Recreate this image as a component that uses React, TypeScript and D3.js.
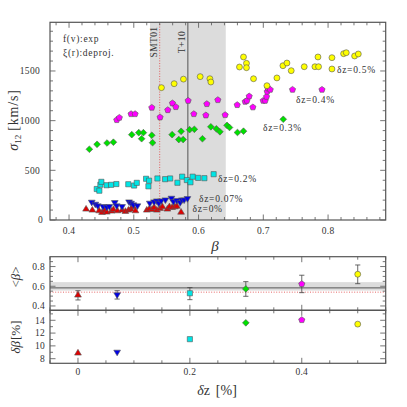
import React from "react";
import * as d3 from "d3";

// ---------------- data ----------------
const seriesYellow: [number, number][] = [
  [0.5427, 1332], [0.5623, 1372], [0.5767, 1418], [0.6025, 1443], [0.6175, 1422], [0.619, 1389],
  [0.6632, 1540], [0.6694, 1641], [0.674, 1577], [0.674, 1533], [0.6849, 1422], [0.7056, 1352],
  [0.721, 1430], [0.7303, 1553], [0.7365, 1580], [0.7431, 1503], [0.7632, 1543], [0.7797, 1543],
  [0.7853, 1543], [0.7844, 1641], [0.806, 1634], [0.806, 1520], [0.824, 1674], [0.8281, 1684],
  [0.841, 1651], [0.8467, 1671],
];
const seriesMagenta: [number, number][] = [
  [0.4737, 1007], [0.4777, 1030], [0.4958, 1067], [0.502, 1067], [0.5278, 1131], [0.5406, 1034],
  [0.5525, 1107], [0.5597, 1175], [0.5649, 1138], [0.5839, 1201], [0.5927, 1067], [0.6113, 1054],
  [0.6128, 1168], [0.6298, 1208], [0.6411, 1057], [0.6597, 1158], [0.672, 1191], [0.6747, 1201],
  [0.6782, 1245], [0.6839, 1135], [0.6998, 1201], [0.7029, 1201], [0.705, 1241], [0.706, 1292],
  [0.7071, 1326], [0.7107, 1312], [0.7451, 1312], [0.7906, 1312],
];
const seriesGreen: [number, number][] = [
  [0.4314, 712], [0.4433, 762], [0.4587, 775], [0.4685, 783], [0.4969, 859], [0.5077, 879],
  [0.5148, 879], [0.5121, 818], [0.5278, 853], [0.529, 778], [0.5592, 859], [0.5731, 893],
  [0.5695, 810], [0.5762, 810], [0.5862, 909], [0.5935, 913], [0.606, 818], [0.619, 938],
  [0.6275, 918], [0.633, 888], [0.6439, 953], [0.6478, 931], [0.6601, 881], [0.6694, 894],
  [0.7308, 1014],
];
const seriesCyan: [number, number][] = [
  [0.4428, 312], [0.4468, 295], [0.4484, 355], [0.4499, 384], [0.458, 350], [0.4649, 354],
  [0.4731, 362], [0.4915, 360], [0.5005, 347], [0.5046, 374], [0.519, 415], [0.5236, 396],
  [0.5226, 339], [0.5365, 418], [0.5484, 411], [0.5561, 418], [0.5674, 375], [0.5747, 436],
  [0.5819, 402], [0.5875, 380], [0.5909, 436], [0.5994, 424], [0.609, 421], [0.6233, 461],
];
const seriesBlue: [number, number][] = [
  [0.4351, 178], [0.4406, 158], [0.4444, 141], [0.4526, 134], [0.4583, 128], [0.4623, 134],
  [0.4706, 174], [0.4737, 141], [0.4819, 134], [0.4927, 181], [0.4958, 168], [0.4994, 151],
  [0.5056, 141], [0.5247, 168], [0.5314, 181], [0.5356, 191], [0.5386, 168], [0.5422, 191],
  [0.5488, 201], [0.5581, 218], [0.5612, 184], [0.5665, 194], [0.5716, 174], [0.5742, 201],
  [0.5777, 201], [0.5828, 214],
];
const seriesRed: [number, number][] = [
  [0.4263, 111], [0.436, 101], [0.4464, 94], [0.451, 78], [0.4552, 101], [0.4583, 81],
  [0.4654, 91], [0.4685, 108], [0.4747, 94], [0.4819, 101], [0.487, 88], [0.4917, 101],
  [0.4954, 111], [0.4985, 134], [0.5025, 94], [0.5201, 101], [0.5241, 114], [0.5283, 108],
  [0.5314, 128], [0.5356, 101], [0.5406, 118], [0.5442, 134], [0.5519, 111], [0.555, 134],
  [0.5592, 128], [0.5634, 134], [0.5665, 140], [0.573, 80],
];

const dzValues = [0, 0.07, 0.2, 0.3, 0.4, 0.5];
const meanBeta = [0.512, 0.512, 0.529, 0.573, 0.623, 0.722];
const meanBetaLo = [0.461, 0.47, 0.464, 0.498, 0.535, 0.626];
const meanBetaHi = [0.555, 0.555, 0.586, 0.647, 0.712, 0.816];
const deltaBeta = [8.9, 9.0, 11.05, 13.6, 14.05, 13.4];

const bandLo = 0.525;
const bandHi = 0.642;
const bandLoMid = 0.556;
const betaT10 = 0.5835;
const betaSMT01 = 0.54;

const topXTicks = [0.4, 0.5, 0.6, 0.7, 0.8];
const topYTicks = [0, 500, 1000, 1500];
const lowXTicks = [0, 0.2, 0.4];
const midYTicks = [0.4, 0.6, 0.8];
const botYTicks = [8, 10, 12, 14];

const seriesLabels = ["δz=0%", "δz=0.07%", "δz=0.2%", "δz=0.3%", "δz=0.4%", "δz=0.5%"];

// ---------------- styling ----------------
const FONT = "'Liberation Serif', 'DejaVu Serif', serif";
const TXT = "#333";
const FRAME = "#555";
const EDGE = "#555";

type Kind = "tri" | "tridown" | "square" | "diamond" | "pentagon" | "circle";
const kinds: Kind[] = ["tri", "tridown", "square", "diamond", "pentagon", "circle"];
const fills = ["#e00000", "#0000e6", "#00e6e6", "#00e000", "#ff00ff", "#ffff00"];
const allSeries = [seriesRed, seriesBlue, seriesCyan, seriesGreen, seriesMagenta, seriesYellow];

function markerPath(kind: Kind, s: number): string {
  const p = d3.path();
  if (kind === "circle") {
    p.arc(0, 0, s * 0.55, 0, Math.PI * 2);
  } else if (kind === "square") {
    const h = s * 0.48;
    p.rect(-h, -h, 2 * h, 2 * h);
  } else if (kind === "diamond") {
    const h = s * 0.62;
    p.moveTo(0, -h); p.lineTo(h, 0); p.lineTo(0, h); p.lineTo(-h, 0); p.closePath();
  } else if (kind === "pentagon") {
    const r = s * 0.6;
    for (let k = 0; k < 5; k++) {
      const a = -Math.PI / 2 + (k * 2 * Math.PI) / 5;
      if (k === 0) p.moveTo(r * Math.cos(a), r * Math.sin(a));
      else p.lineTo(r * Math.cos(a), r * Math.sin(a));
    }
    p.closePath();
  } else {
    const r = s * 0.66;
    const sgn = kind === "tri" ? 1 : -1;
    p.moveTo(0, -r * sgn);
    p.lineTo(r * 0.95, r * 0.6 * sgn);
    p.lineTo(-r * 0.95, r * 0.6 * sgn);
    p.closePath();
  }
  return p.toString();
}

const L = 50, R = 385.7;
const xTop = d3.scaleLinear().domain([0.3706, 0.889]).range([L, R]);
const yTop = d3.scaleLinear().domain([0, 1990]).range([220, 22.3]);
const xLow = d3.scaleLinear().domain([-0.05, 0.55]).range([L, R]);
const yMid = d3.scaleLinear().domain([0.356, 0.9]).range([310.3, 256.7]);
const yBot = d3.scaleLinear().domain([7.28, 15.56]).range([363.3, 310.3]);

function range(a: number, b: number, step: number) {
  const out: number[] = [];
  for (let v = a; v <= b + step * 1e-6; v += step) out.push(+v.toFixed(6));
  return out;
}

function Ticks(props: {
  x: d3.ScaleLinear<number, number>;
  y: d3.ScaleLinear<number, number>;
  xMinor: number[]; xMajor: number[]; yMinor: number[]; yMajor: number[];
}) {
  const { x, y, xMinor, xMajor, yMinor, yMajor } = props;
  const [y0, y1] = y.range();
  const [x0, x1] = x.range();
  const segs: JSX.Element[] = [];
  const MJ = 5.5, MN = 3;
  xMinor.forEach((v, i) => {
    const len = xMajor.some((m) => Math.abs(m - v) < 1e-6) ? MJ : MN;
    const px = x(v);
    segs.push(<line key={"xb" + i} x1={px} x2={px} y1={y0} y2={y0 - len} />);
    segs.push(<line key={"xt" + i} x1={px} x2={px} y1={y1} y2={y1 + len} />);
  });
  yMinor.forEach((v, i) => {
    const len = yMajor.some((m) => Math.abs(m - v) < 1e-6) ? MJ : MN;
    const py = y(v);
    segs.push(<line key={"yl" + i} x1={x0} x2={x0 + len} y1={py} y2={py} />);
    segs.push(<line key={"yr" + i} x1={x1} x2={x1 - len} y1={py} y2={py} />);
  });
  return <g stroke="#666" strokeWidth={0.9}>{segs}</g>;
}

export default function App() {
  const topXMinor = range(0.38, 0.88, 0.02);
  const topYMinor = range(0, 1900, 100);
  const lowXMinor = range(-0.05, 0.55, 0.05);
  const midYMinor = range(0.4, 0.85, 0.05);
  const botYMinor = range(8, 15, 1);

  const cap = 2.6;
  const ms = 5.4;

  return (
    <svg width={407} height={407} style={{ position: "absolute", left: 0, top: 0, background: "#fff" }}
      fontFamily={FONT}>
      {/* ---------- top panel ---------- */}
      <rect x={xTop(bandLo)} y={yTop(1990)} width={xTop(bandHi) - xTop(bandLo)} height={yTop(0) - yTop(1990)} fill="#dcdcdc" />
      <line x1={xTop(betaSMT01)} x2={xTop(betaSMT01)} y1={yTop(0)} y2={yTop(1990)} stroke="#e04040" strokeWidth={0.8} strokeDasharray="1,1.6" />
      <line x1={xTop(betaT10)} x2={xTop(betaT10)} y1={yTop(0)} y2={yTop(1990)} stroke="#555" strokeWidth={1} />
      <text transform={`translate(${xTop(betaSMT01) - 3},42) rotate(-90)`} textAnchor="middle" fontSize={9.5} fill={TXT} letterSpacing={0.4}>SMT01</text>
      <text transform={`translate(${xTop(betaT10) - 3},42) rotate(-90)`} textAnchor="middle" fontSize={9.5} fill={TXT} letterSpacing={0.4}>T+10</text>

      {allSeries.map((ser, si) => (
        <g key={si} fill={fills[si]} stroke={EDGE} strokeWidth={0.6}>
          {ser.map((d, i) => (
            <path key={i} transform={`translate(${xTop(d[0])},${yTop(d[1])})`} d={markerPath(kinds[si], ms)} />
          ))}
        </g>
      ))}

      <g fontSize={9.5} fill={TXT} letterSpacing={0.7}>
        <text x={63} y={41.5}>f(v):exp</text>
        <text x={63} y={56}>ξ(r):deproj.</text>
        <text x={337} y={73}>{seriesLabels[5]}</text>
        <text x={296} y={103}>{seriesLabels[4]}</text>
        <text x={263} y={131}>{seriesLabels[3]}</text>
        <text x={218} y={182}>{seriesLabels[2]}</text>
        <text x={199} y={202}>{seriesLabels[1]}</text>
        <text x={192.5} y={211.5}>{seriesLabels[0]}</text>
      </g>

      <Ticks x={xTop} y={yTop} xMinor={topXMinor} xMajor={topXTicks} yMinor={topYMinor} yMajor={topYTicks} />
      <rect x={L} y={22.3} width={R - L} height={220 - 22.3} fill="none" stroke={FRAME} strokeWidth={1.2} />

      <g fontSize={9.5} fill={TXT} letterSpacing={0.3}>
        {topXTicks.map((t) => (
          <text key={t} x={xTop(t)} y={233.5} textAnchor="middle">{t.toFixed(1)}</text>
        ))}
        {topYTicks.map((t) => (
          <text key={t} x={t === 0 ? 43 : 40} y={yTop(t) + 3.3} textAnchor="end">{t}</text>
        ))}
      </g>
      <text x={215} y={251} textAnchor="middle" fontSize={15} fontStyle="italic" fill={TXT}>β</text>
      <text transform="translate(18,120) rotate(-90)" textAnchor="middle" fontSize={14} fill={TXT}>
        <tspan fontStyle="italic">σ</tspan>
        <tspan fontSize={9} dy={3}>12</tspan>
        <tspan dy={-3} dx={4} letterSpacing={0.8}>[km/s]</tspan>
      </text>

      {/* ---------- middle panel ---------- */}
      <rect x={L} y={yMid(bandHi)} width={R - L} height={yMid(bandLoMid) - yMid(bandHi)} fill="#dcdcdc" />
      <line x1={L} x2={R} y1={yMid(betaT10)} y2={yMid(betaT10)} stroke="#555" strokeWidth={1} />
      <line x1={L} x2={R} y1={yMid(betaSMT01)} y2={yMid(betaSMT01)} stroke="#e04040" strokeWidth={0.8} strokeDasharray="1,1.6" />
      <g stroke="#444" strokeWidth={0.8}>
        {dzValues.map((v, i) => (
          <g key={i}>
            <line x1={xLow(v)} x2={xLow(v)} y1={yMid(meanBetaLo[i])} y2={yMid(meanBetaHi[i])} />
            <line x1={xLow(v) - cap} x2={xLow(v) + cap} y1={yMid(meanBetaLo[i])} y2={yMid(meanBetaLo[i])} />
            <line x1={xLow(v) - cap} x2={xLow(v) + cap} y1={yMid(meanBetaHi[i])} y2={yMid(meanBetaHi[i])} />
          </g>
        ))}
      </g>
      {dzValues.map((v, i) => (
        <path key={i} transform={`translate(${xLow(v)},${yMid(meanBeta[i])})`} d={markerPath(kinds[i], ms)}
          fill={fills[i]} stroke={EDGE} strokeWidth={0.6} />
      ))}
      <Ticks x={xLow} y={yMid} xMinor={lowXMinor} xMajor={lowXTicks} yMinor={midYMinor} yMajor={midYTicks} />

      {/* ---------- bottom panel ---------- */}
      {dzValues.map((v, i) => (
        <path key={i} transform={`translate(${xLow(v)},${yBot(deltaBeta[i])})`} d={markerPath(kinds[i], ms)}
          fill={fills[i]} stroke={EDGE} strokeWidth={0.6} />
      ))}
      <Ticks x={xLow} y={yBot} xMinor={lowXMinor} xMajor={lowXTicks} yMinor={botYMinor} yMajor={botYTicks} />

      <rect x={L} y={256.7} width={R - L} height={310.3 - 256.7} fill="none" stroke={FRAME} strokeWidth={1.2} />
      <rect x={L} y={310.3} width={R - L} height={363.3 - 310.3} fill="none" stroke={FRAME} strokeWidth={1.2} />

      <g fontSize={9.5} fill={TXT} letterSpacing={0.3}>
        {midYTicks.map((t) => (
          <text key={t} x={45} y={yMid(t) + 3.3} textAnchor="end">{t.toFixed(1)}</text>
        ))}
        {botYTicks.map((t) => (
          <text key={t} x={45} y={yBot(t) + 3.3} textAnchor="end">{t}</text>
        ))}
        {lowXTicks.map((t) => (
          <text key={t} x={xLow(t)} y={375} textAnchor="middle">{t === 0 ? "0" : t.toFixed(1)}</text>
        ))}
      </g>
      <text transform="translate(20,277) rotate(-90)" textAnchor="middle" fontSize={13} fill={TXT}>
        {"<"}<tspan fontStyle="italic">β</tspan>{">"}
      </text>
      <text transform="translate(20,337) rotate(-90)" textAnchor="middle" fontSize={13} fill={TXT}>
        <tspan fontStyle="italic">δβ</tspan><tspan dx={1}>[%]</tspan>
      </text>
      <text x={217} y={395} textAnchor="middle" fontSize={14} fill={TXT}>
        <tspan fontStyle="italic">δ</tspan>z<tspan dx={6}>[%]</tspan>
      </text>
    </svg>
  );
}
